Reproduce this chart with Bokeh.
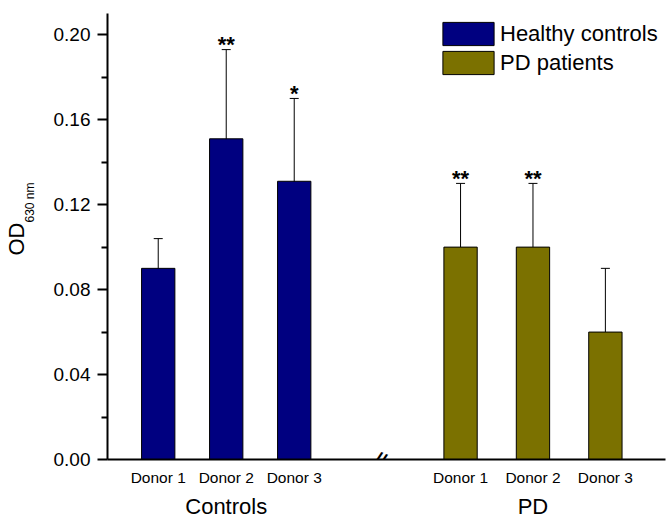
from bokeh.plotting import figure
from bokeh.models import (ColumnDataSource, Whisker, TeeHead, FixedTicker, Label,
                          NumeralTickFormatter, LinearAxis, Title)
from bokeh.core.properties import value
from bokeh.embed import file_html
from bokeh.resources import INLINE

# ---- data ----
donors = ["Donor 1", "Donor 2", "Donor 3"]
groups = ["Controls", "PD"]
legend_labels = ["Healthy controls", "PD patients"]
ctrl_mean = [0.090, 0.151, 0.131]
ctrl_err = [0.014, 0.042, 0.039]
ctrl_sig = ["", "**", "*"]
pd_mean = [0.100, 0.100, 0.060]
pd_err = [0.030, 0.030, 0.030]
pd_sig = ["**", "**", ""]
y_ticks = [0.00, 0.04, 0.08, 0.12, 0.16, 0.20]
y_minor = [0.02, 0.06, 0.10, 0.14, 0.18]
y_label_main = "OD"
y_label_sub = "630 nm"

# ---- layout (positions on a broken axis) ----
ctrl_x = [0.0, 1.0, 2.0]
pd_x0, pd_step = 4.446, 1.065
pd_x = [pd_x0 + i * pd_step for i in range(len(donors))]
break_x = 3.27

FONT = "Liberation Sans"
NAVY = "#000080"
OLIVE = "#7b7100"


def make_src(xs, mean, err, sig):
    return ColumnDataSource(dict(
        x=xs, top=mean,
        upper=[m + e for m, e in zip(mean, err)],
        lower=[m - e for m, e in zip(mean, err)],
        sig=sig))


src_c = make_src(ctrl_x, ctrl_mean, ctrl_err, ctrl_sig)
src_p = make_src(pd_x, pd_mean, pd_err, pd_sig)

p = figure(width=668, height=521, x_range=(-0.746, 7.46), y_range=(0, 0.21),
           output_backend="svg", toolbar_location=None,
           min_border_left=107, min_border_right=3, min_border_top=13, min_border_bottom=62)
p.outline_line_color = None
p.xgrid.visible = False
p.ygrid.visible = False

for src, col, lab in [(src_c, NAVY, legend_labels[0]), (src_p, OLIVE, legend_labels[1])]:
    p.vbar(x="x", top="top", width=0.49, source=src, fill_color=col,
           line_color="black", line_width=1, legend_label=lab)
    p.add_layout(Whisker(base="x", upper="upper", lower="lower", source=src,
                         dimension="height", line_color="black", line_width=1,
                         upper_head=TeeHead(size=9, line_color="black", line_width=1),
                         lower_head=TeeHead(size=9, line_color="black", line_width=1)))
    p.text(x="x", y="upper", text="sig", source=src, text_align="center",
           text_baseline="alphabetic", text_font=value(FONT), text_font_size="22px",
           text_font_style="bold", text_color="black", y_offset=-5)

# y axis
ya = p.yaxis[0]
ya.ticker = FixedTicker(ticks=y_ticks, minor_ticks=y_minor)
ya.formatter = NumeralTickFormatter(format="0.00")
ya.axis_line_width = 2
ya.major_tick_line_width = 2
ya.minor_tick_line_width = 2
ya.major_tick_out = 10
ya.major_tick_in = 0
ya.minor_tick_out = 6
ya.minor_tick_in = 0
ya.major_label_standoff = 7
ya.major_label_text_font = FONT
ya.major_label_text_font_size = "19px"
ya.major_label_text_color = "black"

# invisible spacer between tick labels and the y title
sp_tick = [y_ticks[2]]
spacer = LinearAxis(ticker=FixedTicker(ticks=sp_tick, minor_ticks=[]),
                    major_label_overrides={sp_tick[0]: ""},
                    axis_line_color=None,
                    major_tick_line_color=None, minor_tick_line_color=None,
                    major_tick_out=14, major_tick_in=0, minor_tick_out=0, minor_tick_in=0,
                    major_label_standoff=0)
p.add_layout(spacer, "left")

t_sub = Title(text=y_label_sub, align="left", offset=237, vertical_align="bottom",
              standoff=0, text_font=FONT, text_font_size="12px",
              text_font_style="normal", text_color="black")
p.add_layout(t_sub, "left")
t_main = Title(text=y_label_main, align="left", offset=204, vertical_align="bottom",
               standoff=-16, text_font=FONT, text_font_size="22px",
               text_font_style="normal", text_color="black")
p.add_layout(t_main, "left")

# x axis (donors)
xa = p.xaxis[0]
xs_all = ctrl_x + pd_x
xa.ticker = FixedTicker(ticks=xs_all, minor_ticks=[])
xa.major_label_overrides = {x: d for x, d in zip(xs_all, donors + donors)}
xa.axis_line_width = 2
xa.major_tick_line_color = None
xa.minor_tick_line_color = None
xa.major_tick_out = 0
xa.major_tick_in = 0
xa.minor_tick_out = 0
xa.minor_tick_in = 0
xa.major_label_standoff = 9
xa.major_label_text_font = FONT
xa.major_label_text_font_size = "15.5px"
xa.major_label_text_color = "black"

# group axis
gx = [ctrl_x[1], pd_x[1]]
ga = LinearAxis(ticker=FixedTicker(ticks=gx, minor_ticks=[]),
                major_label_overrides={x: g for x, g in zip(gx, groups)},
                axis_line_color=None, major_tick_line_color=None, minor_tick_line_color=None,
                major_tick_out=0, major_tick_in=0, minor_tick_out=0, minor_tick_in=0,
                major_label_standoff=5, major_label_text_font=FONT,
                major_label_text_font_size="22px", major_label_text_color="black")
p.add_layout(ga, "below")

# axis break mark
p.add_layout(Label(x=break_x, y=0, x_units="data", y_units="data", text="//",
                   text_align="center", text_baseline="middle", angle=-0.4,
                   text_font=FONT, text_font_size="19px", text_font_style="bold",
                   text_color="black"))

# legend (legend swatches are drawn inset by 10% of the glyph box)
lg = p.legend[0]
lg.location = (329, 382)
lg.margin = 0
lg.padding = 0
lg.spacing = 0
lg.glyph_width = 64
lg.glyph_height = 29
lg.label_height = 29
lg.label_standoff = 0
lg.label_text_font = FONT
lg.label_text_font_size = "22px"
lg.label_text_color = "black"
lg.border_line_color = None
lg.background_fill_alpha = 0

open("out.html", "w").write(file_html(p, INLINE))
